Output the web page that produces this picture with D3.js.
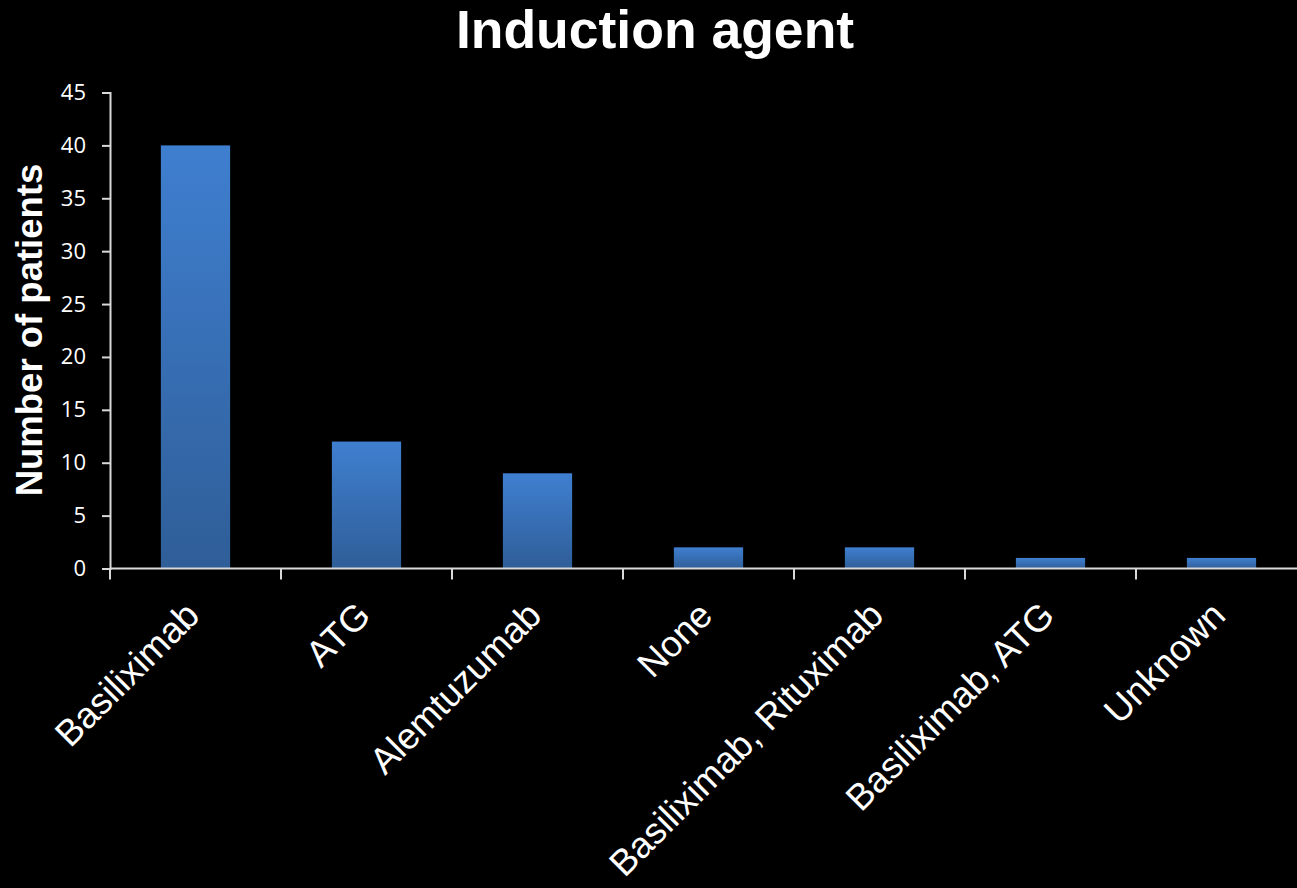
<!DOCTYPE html>
<html>
<head>
<meta charset="utf-8">
<script src="https://cdn.jsdelivr.net/npm/d3@7"></script>
<style>
  html, body { margin: 0; padding: 0; background: #000; }
  svg { display: block; }
</style>
</head>
<body>
<script>
const categories = ["Basiliximab", "ATG", "Alemtuzumab", "None", "Basiliximab, Rituximab", "Basiliximab, ATG", "Unknown"];
const patients = [40, 12, 9, 2, 2, 1, 1];
const yTicks = [0, 5, 10, 15, 20, 25, 30, 35, 40, 45];
const titleText = "Induction agent";
const yAxisTitle = "Number of patients";

const W = 1297, H = 888;
const svg = d3.select("body").append("svg").attr("width", W).attr("height", H)
  .style("background", "#000");

const defs = svg.append("defs");
const grad = defs.append("linearGradient").attr("id", "barGrad")
  .attr("x1", 0).attr("y1", 0).attr("x2", 0).attr("y2", 1);
grad.append("stop").attr("offset", "0%").attr("stop-color", "#3f7fd0");
grad.append("stop").attr("offset", "100%").attr("stop-color", "#2f5e98");

const plotLeft = 110, plotBottom = 568.5, plotTop = 92.5;
const step = 171;
const x = d3.scaleBand().domain(categories).range([plotLeft, plotLeft + step * categories.length]).padding(0);
const y = d3.scaleLinear().domain([0, 45]).range([plotBottom, plotTop]);

const barW = x.bandwidth() * 0.405;

// bars
svg.append("g").selectAll("rect").data(categories).join("rect")
  .attr("x", (d) => x(d) + (x.bandwidth() - barW) / 2)
  .attr("width", barW)
  .attr("y", (d, i) => y(patients[i]))
  .attr("height", (d, i) => y(0) - y(patients[i]))
  .attr("fill", "url(#barGrad)");

const axisColor = "#d9d9d9";

// y axis
const yAxis = svg.append("g").attr("transform", `translate(${plotLeft},0)`)
  .call(d3.axisLeft(y).tickValues(yTicks).tickSize(8).tickPadding(16).tickSizeOuter(8));
yAxis.select(".domain").attr("stroke", axisColor).attr("stroke-width", 2);
yAxis.selectAll(".tick line").attr("stroke", axisColor).attr("stroke-width", 2);
yAxis.selectAll(".tick text").attr("fill", "#fff")
  .style("font-family", "'Open Sans', sans-serif").style("font-size", "22px");

// x axis
const xAxis = svg.append("g").attr("transform", `translate(0,${plotBottom})`);
xAxis.append("line").attr("x1", plotLeft).attr("x2", plotLeft + step * categories.length)
  .attr("y1", 0).attr("y2", 0).attr("stroke", axisColor).attr("stroke-width", 2);
const boundaries = categories.map((d) => x(d)).concat([x(categories[categories.length - 1]) + x.bandwidth()]);
xAxis.selectAll("line.tk").data(boundaries).join("line").attr("class", "tk")
  .attr("x1", (d) => d).attr("x2", (d) => d).attr("y1", 0).attr("y2", 11)
  .attr("stroke", axisColor).attr("stroke-width", 2);

// category labels
svg.append("g").selectAll("text").data(categories).join("text")
  .attr("transform", (d) => `translate(${x(d) + x.bandwidth() / 2 + 6},${plotBottom + 49}) rotate(-45)`)
  .attr("text-anchor", "end")
  .attr("fill", "#fff")
  .style("font-family", "'Liberation Sans', Arial, sans-serif")
  .style("font-size", "36.7px")
  .text((d) => d);

// title
svg.append("text").attr("x", 655).attr("y", 48).attr("text-anchor", "middle")
  .attr("fill", "#fff").style("font-family", "'Liberation Sans', Arial, sans-serif")
  .style("font-weight", "bold").style("font-size", "53.5px").text(titleText);

// y axis title
svg.append("text").attr("transform", "translate(42,330) rotate(-90)").attr("text-anchor", "middle")
  .attr("fill", "#fff").style("font-family", "'Liberation Sans', Arial, sans-serif")
  .style("font-weight", "bold").style("font-size", "36.5px").text(yAxisTitle);
</script>
</body>
</html>
